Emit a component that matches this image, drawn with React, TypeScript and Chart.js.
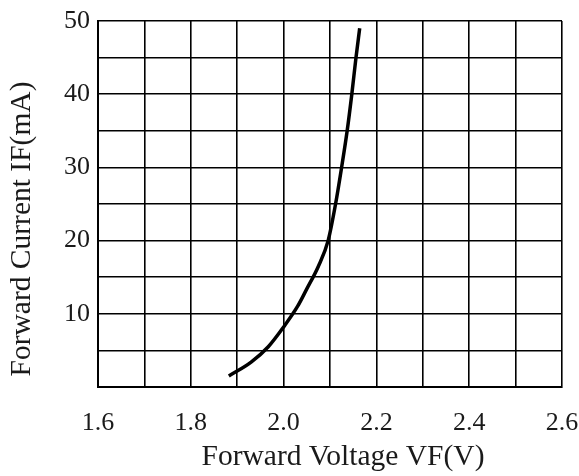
import React, { useEffect, useRef } from "react";
import { Chart, registerables } from "chart.js";

Chart.register(...registerables);

const voltage = [1.882, 1.93, 1.967, 2.0, 2.03, 2.05, 2.075, 2.096, 2.112, 2.125, 2.137, 2.147, 2.156, 2.164];
const current = [1.5, 3.4, 5.5, 8.2, 11.0, 13.4, 16.5, 20, 25, 30, 35, 40, 45, 49.0];

const xTitle = "Forward Voltage VF(V)";
const yTitle = "Forward Current IF(mA)";
const xRange = [1.6, 2.6];
const yRange = [0, 50];

const FONT = "'Liberation Serif', 'Times New Roman', serif";

const titlePlugin = {
  id: "axisTitles",
  afterDraw(chart: any) {
    const ctx = chart.ctx;
    const area = chart.chartArea;
    ctx.save();
    ctx.fillStyle = "#1a1a1a";
    ctx.font = `29.5px ${FONT}`;
    ctx.textAlign = "center";
    ctx.textBaseline = "middle";
    ctx.fillText(xTitle, area.left + (area.right - area.left) / 2 + 13, 457);
    ctx.translate(22, area.top + (area.bottom - area.top) / 2 + 25);
    ctx.rotate(-Math.PI / 2);
    ctx.fillText(yTitle, 0, 0);
    ctx.restore();
  },
};

export default function App() {
  const ref = useRef<HTMLCanvasElement | null>(null);
  useEffect(() => {
    document.body.style.margin = "0";
    const canvas = ref.current!;
    const chart = new Chart(canvas, {
      type: "line",
      data: {
        datasets: [
          {
            data: voltage.map((v, i) => ({ x: v, y: current[i] })),
            borderColor: "#000",
            borderWidth: 3.5,
            pointRadius: 0,
            cubicInterpolationMode: "monotone",
            fill: false,
          },
        ],
      },
      options: {
        responsive: false,
        animation: false,
        layout: { padding: { left: 0, right: 17, top: 21, bottom: 0 } },
        plugins: { legend: { display: false }, tooltip: { enabled: false } },
        scales: {
          x: {
            type: "linear",
            min: xRange[0],
            max: xRange[1],
            afterFit: (s: any) => {
              s.height = 89;
              s.paddingLeft = 0;
              s.paddingRight = 0;
            },
            grid: { color: "#000", lineWidth: 1.6, drawTicks: false },
            border: { color: "#000", width: 2 },
            ticks: {
              stepSize: 0.1,
              autoSkip: false,
              maxRotation: 0,
              padding: 21,
              color: "#1a1a1a",
              font: { family: FONT, size: 26 },
              callback: (v: any, i: number) => (i % 2 === 0 ? Number(v).toFixed(1) : ""),
            },
          },
          y: {
            type: "linear",
            min: yRange[0],
            max: yRange[1],
            afterFit: (s: any) => {
              s.width = 98;
              s.paddingTop = 0;
              s.paddingBottom = 0;
            },
            grid: { color: "#000", lineWidth: 1.6, drawTicks: false },
            border: { color: "#000", width: 2 },
            ticks: {
              stepSize: 5,
              autoSkip: false,
              padding: 8,
              color: "#1a1a1a",
              font: { family: FONT, size: 26 },
              callback: (v: any) => (Number(v) % 10 === 0 && Number(v) !== 0 ? String(v) : ""),
            },
          },
        },
      },
      plugins: [titlePlugin],
    });
    return () => chart.destroy();
  }, []);
  return <canvas ref={ref} width={579} height={476} style={{ display: "block" }} />;
}
